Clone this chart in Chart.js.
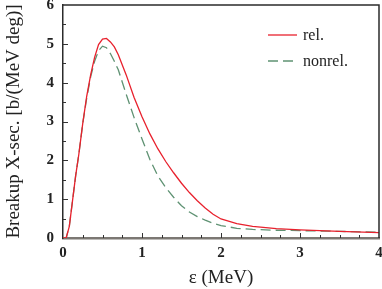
<!DOCTYPE html>
<html>
<head>
<meta charset="utf-8">
<script src="https://cdn.jsdelivr.net/npm/chart.js@4/dist/chart.umd.min.js"></script>
<style>
html,body{margin:0;padding:0;background:#fff;}
canvas{display:block;}
</style>
</head>
<body>
<canvas id="c" width="382" height="289"></canvas>
<script>
const energies = [0,0.04,0.08,0.12,0.16,0.2,0.25,0.3,0.35,0.4,0.45,0.5,0.55,0.6,0.65,0.7,0.8,0.9,1.0,1.1,1.2,1.3,1.4,1.5,1.6,1.7,1.8,1.9,2.0,2.2,2.4,2.7,3.0,3.5,4.0];
const relValues = [0,0,0.3,0.95,1.6,2.15,2.95,3.65,4.2,4.65,4.98,5.12,5.14,5.05,4.92,4.72,4.2,3.62,3.12,2.68,2.3,1.97,1.68,1.41,1.17,0.96,0.77,0.61,0.49,0.37,0.3,0.24,0.21,0.17,0.14];
const nonrelValues = [0,0,0.3,0.95,1.6,2.15,2.95,3.6,4.15,4.55,4.82,4.94,4.9,4.75,4.55,4.33,3.7,3.1,2.55,2.02,1.6,1.3,1.05,0.83,0.67,0.55,0.46,0.38,0.32,0.25,0.22,0.2,0.19,0.17,0.15];
const seriesNames = ['rel.', 'nonrel.'];
const xTicks = [0,1,2,3,4];
const yTicks = [0,1,2,3,4,5,6];
const xMinorStep = 0.25;
const yMinorStep = 0.5;

const SERIF = "'Liberation Serif','Times New Roman',serif";
const RED = '#e8212d';
const GREEN = '#5f9273';

const toPts = vals => energies.map((e,i)=>({x:e,y:vals[i]}));

const decor = {
  id:'decor',
  afterDatasetsDraw(chart){
    const {ctx, chartArea:a, scales:{x,y}} = chart;
    ctx.save();
    ctx.strokeStyle = '#333';
    ctx.lineWidth = 1;
    const xmin = xTicks[0], xmax = xTicks[xTicks.length-1];
    for (let v = xmin; v <= xmax + 1e-9; v += xMinorStep) {
      const major = xTicks.some(t => Math.abs(t - v) < 1e-6);
      if (v <= xmin + 1e-9 || v >= xmax - 1e-9) continue;
      const px = Math.round(x.getPixelForValue(v)) + 0.5;
      ctx.beginPath();
      ctx.moveTo(px, a.bottom);
      ctx.lineTo(px, a.bottom - (major ? 5 : 3));
      ctx.stroke();
    }
    const ymin = yTicks[0], ymax = yTicks[yTicks.length-1];
    for (let v = ymin; v <= ymax + 1e-9; v += yMinorStep) {
      const major = yTicks.some(t => Math.abs(t - v) < 1e-6);
      if (v <= ymin + 1e-9 || v >= ymax - 1e-9) continue;
      const py = Math.round(y.getPixelForValue(v)) + 0.5;
      ctx.beginPath();
      ctx.moveTo(a.left, py);
      ctx.lineTo(a.left + (major ? 5 : 3), py);
      ctx.stroke();
    }
    ctx.strokeStyle = '#2b2b2b';
    ctx.lineWidth = 1.5;
    ctx.beginPath();
    ctx.moveTo(a.left, a.top);
    ctx.lineTo(a.right, a.top);
    ctx.lineTo(a.right, a.bottom);
    ctx.stroke();
    const ds = chart.data.datasets;
    const lx0 = 268, lx1 = 297, tx = 303;
    const rows = [35, 61];
    ctx.font = '16px ' + SERIF;
    ctx.textBaseline = 'middle';
    ctx.fillStyle = '#222';
    ds.forEach((d,i) => {
      ctx.strokeStyle = d.borderColor;
      ctx.lineWidth = d.borderWidth;
      ctx.setLineDash(d.borderDash || []);
      ctx.beginPath();
      ctx.moveTo(lx0, rows[i]);
      ctx.lineTo(lx1, rows[i]);
      ctx.stroke();
      ctx.setLineDash([]);
      ctx.fillText(d.label, tx, rows[i] + 1);
    });
    ctx.restore();
  }
};

new Chart(document.getElementById('c'), {
  type:'line',
  data:{
    datasets:[
      {label:seriesNames[0], data:toPts(relValues), borderColor:RED, borderWidth:1.3, pointRadius:0, tension:0, fill:false},
      {label:seriesNames[1], data:toPts(nonrelValues), borderColor:GREEN, borderWidth:1.3, borderDash:[10,5], pointRadius:0, tension:0, fill:false}
    ]
  },
  options:{
    responsive:false,
    animation:false,
    devicePixelRatio:1,
    layout:{padding:{top:5, right:3, left:0, bottom:0}},
    plugins:{legend:{display:false}, tooltip:{enabled:false}},
    scales:{
      x:{
        type:'linear', min:xTicks[0], max:xTicks[xTicks.length-1],
        afterBuildTicks: s => { s.ticks = xTicks.map(v=>({value:v})); },
        ticks:{font:{family:SERIF, size:15, weight:'bold'}, color:'#222', padding:6, maxRotation:0},
        grid:{display:false, drawTicks:false},
        border:{display:true, color:'#7c7873', width:2.5},
        title:{display:true, text:'ε (MeV)', font:{family:SERIF, size:19}, color:'#222', padding:0},
        afterFit: s => { s.height = 51; s.paddingLeft = 0; s.paddingRight = 0; }
      },
      y:{
        type:'linear', min:yTicks[0], max:yTicks[yTicks.length-1],
        afterBuildTicks: s => { s.ticks = yTicks.map(v=>({value:v})); },
        ticks:{font:{family:SERIF, size:15, weight:'bold'}, color:'#222', padding:9},
        grid:{display:false, drawTicks:false},
        border:{display:true, color:'#2b2b2b', width:1.5},
        title:{display:true, text:'Breakup X-sec. [b/(MeV deg)]', font:{family:SERIF, size:19}, color:'#222', padding:{top:3, bottom:0}},
        afterFit: s => { s.width = 63; s.paddingTop = 0; s.paddingBottom = 0; }
      }
    }
  },
  plugins:[decor]
});
</script>
</body>
</html>
